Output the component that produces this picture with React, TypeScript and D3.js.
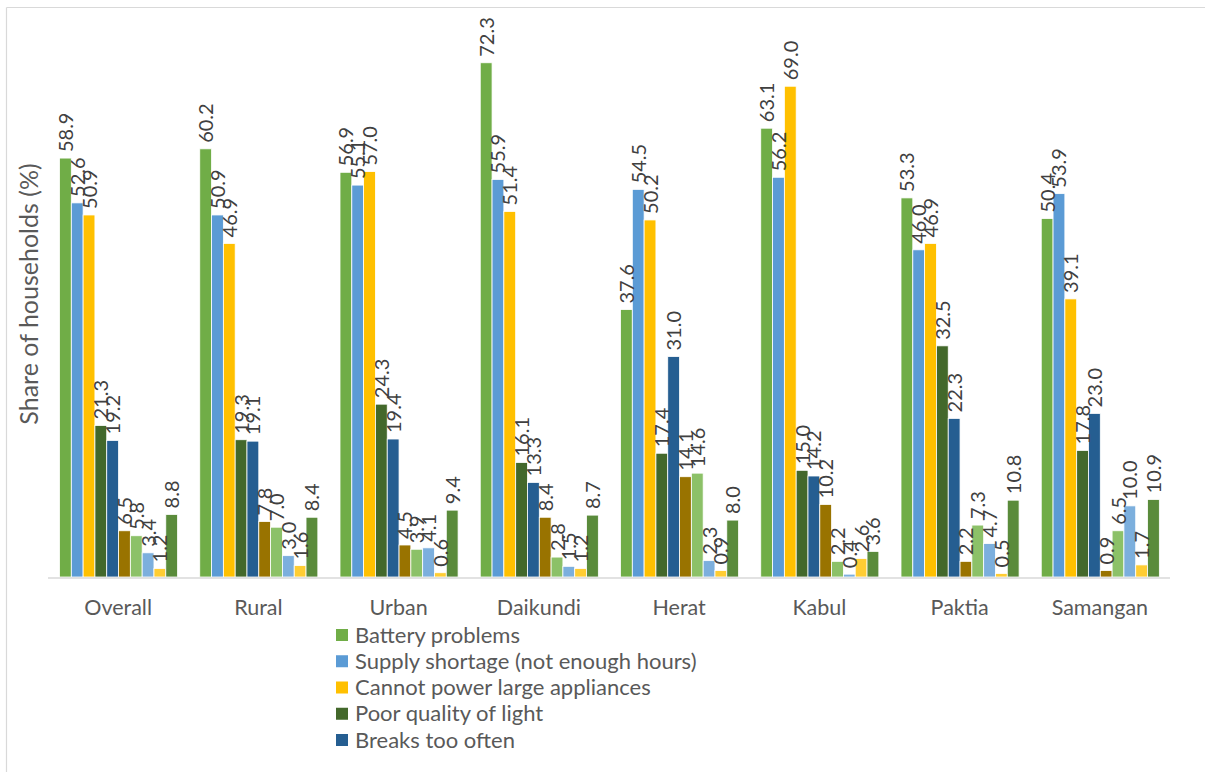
import React from "react";
import * as d3 from "d3";

const categories = ["Overall", "Rural", "Urban", "Daikundi", "Herat", "Kabul", "Paktia", "Samangan"];
const seriesNames = [
  "Battery problems",
  "Supply shortage (not enough hours)",
  "Cannot power large appliances",
  "Poor quality of light",
  "Breaks too often",
  "Series 6",
  "Series 7",
  "Series 8",
  "Series 9",
  "Series 10",
];
const seriesColors = ["#70AD47", "#5B9BD5", "#FFC000", "#43682B", "#255E91", "#997300", "#8CC168", "#7CAFDD", "#FFCD33", "#5A8B3B"];
const legendCount = 5;

const battery = [58.9, 60.2, 56.9, 72.3, 37.6, 63.1, 53.3, 50.4];
const supply = [52.6, 50.9, 55.1, 55.9, 54.5, 56.2, 46.0, 53.9];
const appliances = [50.9, 46.9, 57.0, 51.4, 50.2, 69.0, 46.9, 39.1];
const poorLight = [21.3, 19.3, 24.3, 16.1, 17.4, 15.0, 32.5, 17.8];
const breaks = [19.2, 19.1, 19.4, 13.3, 31.0, 14.2, 22.3, 23.0];
const series6 = [6.5, 7.8, 4.5, 8.4, 14.1, 10.2, 2.2, 0.9];
const series7 = [5.8, 7.0, 3.9, 2.8, 14.6, 2.2, 7.3, 6.5];
const series8 = [3.4, 3.0, 4.1, 1.5, 2.3, 0.4, 4.7, 10.0];
const series9 = [1.2, 1.6, 0.6, 1.2, 0.9, 2.6, 0.5, 1.7];
const series10 = [8.8, 8.4, 9.4, 8.7, 8.0, 3.6, 10.8, 10.9];

const allSeries = [battery, supply, appliances, poorLight, breaks, series6, series7, series8, series9, series10];

const FONT = "Lato, 'Open Sans', sans-serif";

export default function App() {
  const W = 1205, H = 772;
  const left = 48, right = 1170, top = 8, bottom = 577;
  const x0 = d3.scaleBand<string>().domain(categories).range([left, right]).padding(0);
  const bw = x0.bandwidth();
  const idx = d3.range(allSeries.length).map(String);
  const x1 = d3.scaleBand<string>().domain(idx).range([bw * 0.082, bw * 0.924]).padding(0);
  const y = d3.scaleLinear().domain([0, 80]).range([bottom, top]);
  const legendY = d3.scaleLinear().domain([0, 4]).range([635, 740]);

  return (
    <svg width={W} height={H} style={{ position: "absolute", left: 0, top: 0, background: "#fff" }} fontFamily={FONT}>
      <rect x={0} y={0} width={W} height={H} fill="#fff" />
      <line x1={6.5} y1={7.5} x2={W} y2={7.5} stroke="#d9d9d9" strokeWidth={1.2} />
      <line x1={6.5} y1={7.5} x2={6.5} y2={H} stroke="#d9d9d9" strokeWidth={1.2} />
      <text
        transform={`translate(38,${294}) rotate(-90)`}
        textAnchor="middle"
        fontSize={25}
        fill="#595959"
      >
        Share of households (%)
      </text>
      {categories.map((c, ci) => (
        <g key={c} transform={`translate(${x0(c)},0)`}>
          {allSeries.map((s, si) => {
            const v = s[ci];
            const bx = x1(String(si))!;
            const bwid = x1.bandwidth();
            return (
              <rect
                key={si}
                x={bx}
                y={y(v)}
                width={bwid}
                height={bottom - y(v)}
                fill={seriesColors[si]}
                stroke="#fff"
                strokeWidth={0.8}
              />
            );
          })}
          {allSeries.map((s, si) => {
            const v = s[ci];
            const cx = x1(String(si))! + x1.bandwidth() / 2;
            return (
              <text
                key={"t" + si}
                transform={`translate(${cx + 7.5},${y(v) - 6}) rotate(-90)`}
                fontSize={20}
                fill="#404040"
              >
                {v.toFixed(1)}
              </text>
            );
          })}
          <text x={bw / 2} y={615} textAnchor="middle" fontSize={21.5} fill="#595959">
            {c}
          </text>
        </g>
      ))}
      <line x1={left} x2={right} y1={bottom + 1} y2={bottom + 1} stroke="#d9d9d9" strokeWidth={1.5} />
      {seriesNames.slice(0, legendCount).map((n, i) => (
        <g key={n} transform={`translate(336,${legendY(i)})`}>
          <rect x={0} y={-6} width={12} height={12} fill={seriesColors[i]} />
          <text x={19} y={7.5} fontSize={22} fill="#595959">
            {n}
          </text>
        </g>
      ))}
    </svg>
  );
}
